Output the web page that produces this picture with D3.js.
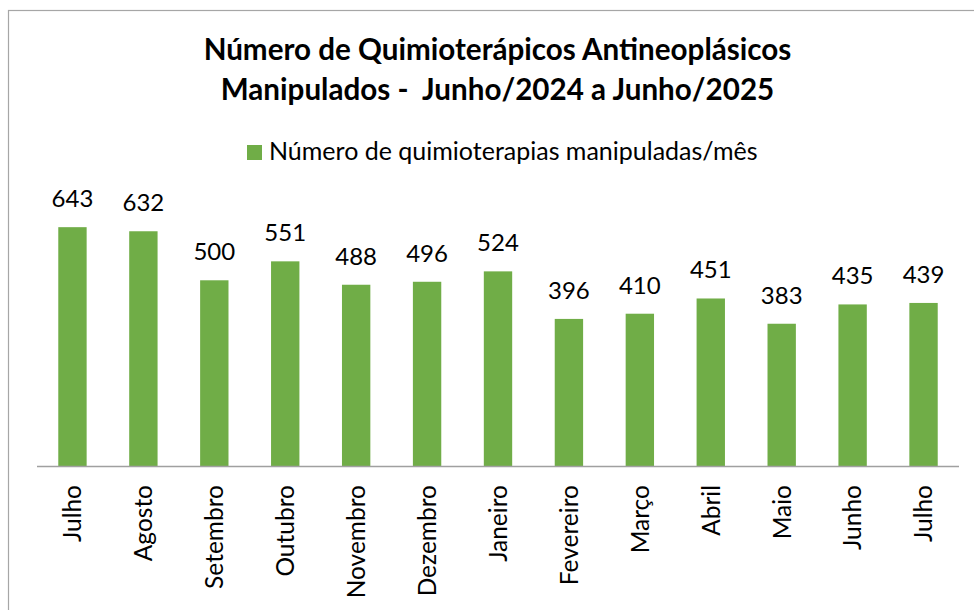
<!DOCTYPE html>
<html>
<head>
<meta charset="utf-8">
<script src="https://cdn.jsdelivr.net/npm/d3@7"></script>
<style>
  body { margin: 0; background: #fff; }
  svg { font-family: Lato, "Open Sans", sans-serif; }
</style>
</head>
<body>
<svg id="chart"></svg>
<script>
const months = ["Julho", "Agosto", "Setembro", "Outubro", "Novembro", "Dezembro", "Janeiro",
  "Fevereiro", "Março", "Abril", "Maio", "Junho", "Julho"];
const values = [643, 632, 500, 551, 488, 496, 524, 396, 410, 451, 383, 435, 439];
const titleLines = ["Número de Quimioterápicos Antineoplásicos", "Manipulados -  Junho/2024 a Junho/2025"];
const seriesName = "Número de quimioterapias manipuladas/mês";

const width = 974, height = 610;
const green = "#70AD47";

const svg = d3.select("#chart")
  .attr("width", width)
  .attr("height", height);

// chart frame (right and bottom edges fall outside the picture)
svg.append("rect")
  .attr("x", 8.5)
  .attr("y", 10.5)
  .attr("width", 980)
  .attr("height", 620)
  .style("fill", "#fff")
  .style("stroke", "#a6a6a6")
  .style("stroke-width", 1.2);

const cx = 497.5;

svg.append("g")
  .selectAll("text")
  .data(titleLines)
  .join("text")
  .attr("x", cx)
  .attr("y", (d, i) => 60 + i * 40)
  .attr("text-anchor", "middle")
  .style("white-space", "pre")
  .style("font-weight", "bold")
  .style("font-size", "29.6px")
  .style("fill", "#000")
  .text(d => d);

// legend
const legend = svg.append("g");
legend.append("rect")
  .attr("x", 247)
  .attr("y", 145)
  .attr("width", 15)
  .attr("height", 15)
  .style("fill", green);
legend.append("text")
  .attr("x", 269)
  .attr("y", 160)
  .style("font-size", "25px")
  .style("fill", "#000")
  .text(seriesName);

const x = d3.scaleBand()
  .domain(d3.range(months.length))
  .range([37, 959])
  .paddingInner(0.6)
  .paddingOuter(0.3);

const y = d3.scaleLinear()
  .domain([0, 700])
  .range([466, 206]);

svg.append("g")
  .selectAll("rect")
  .data(values)
  .join("rect")
  .attr("x", (d, i) => x(i))
  .attr("y", d => y(d))
  .attr("width", x.bandwidth())
  .attr("height", d => y(0) - y(d))
  .style("fill", green);

svg.append("g")
  .selectAll("text")
  .data(values)
  .join("text")
  .attr("x", (d, i) => x(i) + x.bandwidth() / 2)
  .attr("y", d => y(d) - 20)
  .attr("text-anchor", "middle")
  .style("font-size", "24px")
  .style("fill", "#000")
  .text(d => d);

// category axis
const axis = svg.append("g")
  .attr("transform", `translate(0,${y(0)})`)
  .call(d3.axisBottom(x).tickSize(0).tickFormat(i => months[i]));
axis.select(".domain")
  .attr("d", "M37,0.5H959")
  .style("stroke", "#a0a0a0")
  .style("stroke-width", 1.5);
axis.selectAll("text")
  .attr("transform", "rotate(-90)")
  .attr("x", -19)
  .attr("y", 0)
  .attr("dy", "0.36em")
  .attr("text-anchor", "end")
  .style("font-family", "Lato, 'Open Sans', sans-serif")
  .style("font-size", "24.5px")
  .style("fill", "#000");
</script>
</body>
</html>
